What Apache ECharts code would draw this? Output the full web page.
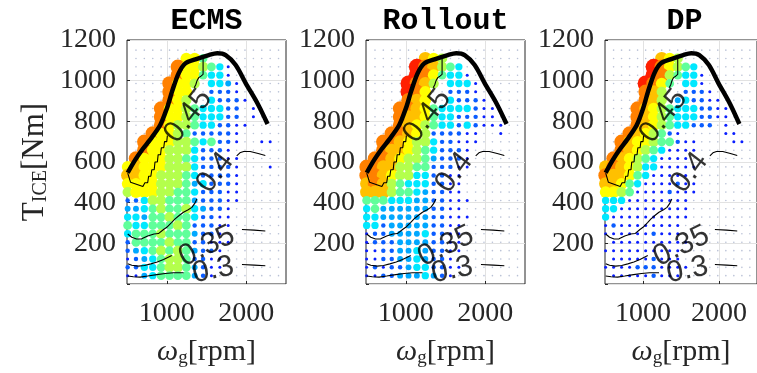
<!DOCTYPE html>
<html>
<head>
<meta charset="utf-8">
<script src="https://cdn.jsdelivr.net/npm/echarts@6/dist/echarts.min.js"></script>
<style>
  html, body { margin: 0; padding: 0; background: #fff; }
  #chart { width: 757px; height: 373px; }
</style>
</head>
<body>
<div id="chart"></div>
<script>
  // operating point grid (rpm / Nm), torque rows listed top to bottom
  const speedGrid = [508, 613, 718, 824, 929, 1035, 1140, 1246, 1351, 1457, 1562, 1668, 1773, 1879, 1984, 2090, 2195, 2301, 2406]
  const torqueGrid = [1150, 1109, 1068, 1027, 986, 945, 904, 863, 822, 781, 740, 699, 658, 617,
    576, 534, 493, 452, 411, 370, 329, 288, 247, 205, 164, 123, 82, 41]

  const titles = ['ECMS', 'Rollout', 'DP']
  const xTicks = [1000, 2000]

  // usage level per grid point (0 = not used, 10 = most used)
  const ecmsUse = [
    [0,0,0,0,0,0,0,0,0,0,0,0,0,0,0,0,0,0,0],
    [0,0,0,0,0,0,0,7,7,5,0,0,0,0,0,0,0,0,0],
    [0,0,0,0,0,0,9,7,7,6,5,4,1,0,0,0,0,0,0],
    [0,0,0,0,0,0,9,7,7,5,4,4,1,0,0,0,0,0,0],
    [0,0,0,0,0,9,7,7,6,0,4,4,3,1,0,0,0,0,0],
    [0,0,0,0,0,9,7,7,0,0,2,2,2,1,0,0,0,0,0],
    [0,0,0,0,0,9,7,6,0,0,4,2,2,2,1,0,0,0,0],
    [0,0,0,0,9,7,7,6,5,4,4,4,2,2,0,1,0,0,0],
    [0,0,0,0,9,7,7,6,5,4,4,4,2,2,0,1,0,0,0],
    [0,0,0,0,9,7,6,6,5,4,4,2,2,1,1,0,0,0,0],
    [0,0,0,9,7,7,6,5,2,2,2,2,2,1,0,0,0,0,0],
    [0,0,9,7,7,7,6,6,5,4,5,2,2,1,0,0,1,1,0],
    [0,0,9,7,7,6,6,6,4,2,2,2,1,0,0,0,0,0,0],
    [0,9,7,7,7,6,6,5,4,2,2,2,1,1,0,0,0,0,0],
    [7,8,7,7,7,6,6,6,4,2,2,2,2,1,0,0,0,1,0],
    [8,8,7,7,6,6,6,5,4,2,2,2,2,1,0,0,0,0,0],
    [7,7,7,7,6,6,6,5,3,4,2,2,2,1,0,0,0,0,0],
    [6,7,7,7,6,6,5,5,4,2,2,2,1,1,0,0,0,0,0],
    [2,2,4,6,6,5,5,5,3,2,2,2,1,1,0,0,0,0,0],
    [3,3,4,5,6,5,5,6,4,3,2,2,1,0,0,0,0,0,0],
    [4,4,3,5,5,6,5,5,4,2,2,1,1,0,0,0,0,0,0],
    [5,4,4,5,5,5,6,5,2,2,2,1,1,0,0,0,0,0,0],
    [4,5,5,5,6,5,5,5,3,2,2,1,0,0,0,0,0,0,0],
    [2,5,5,5,5,6,5,5,2,2,1,1,1,0,0,0,0,0,0],
    [2,3,4,5,6,5,6,5,3,2,2,1,0,0,0,0,0,0,0],
    [1,2,3,4,5,6,6,5,2,2,1,1,0,0,0,0,0,0,0],
    [2,2,4,4,5,6,6,5,3,2,1,1,0,0,0,0,0,0,0],
    [1,1,3,4,5,5,5,5,3,2,1,0,0,0,0,0,0,0,0]
  ]
  const rolloutUse = [
    [0,0,0,0,0,0,0,0,0,0,0,0,0,0,0,0,0,0,0],
    [0,0,0,0,0,0,0,8,7,6,0,0,0,0,0,0,0,0,0],
    [0,0,0,0,0,0,10,9,8,6,5,4,0,0,0,0,0,0,0],
    [0,0,0,0,0,0,10,9,7,5,4,4,1,0,0,0,0,0,0],
    [0,0,0,0,0,10,9,8,6,0,4,4,4,1,0,0,0,0,0],
    [0,0,0,0,0,10,9,7,0,0,2,2,2,1,0,0,0,0,0],
    [0,0,0,0,0,9,8,7,0,0,4,2,2,2,1,0,0,0,0],
    [0,0,0,0,9,9,8,7,5,4,4,4,4,2,1,1,0,0,0],
    [0,0,0,0,9,8,8,7,5,4,4,2,2,2,1,1,0,0,0],
    [0,0,0,0,9,8,7,6,5,4,4,2,4,2,1,1,1,0,0],
    [0,0,0,9,9,8,7,6,2,2,2,2,1,1,0,0,1,0,0],
    [0,0,9,9,8,7,6,6,4,2,2,1,1,1,0,0,0,0,0],
    [0,0,9,8,8,7,6,5,4,2,2,2,1,0,0,0,0,0,0],
    [0,9,9,8,7,6,6,5,3,2,2,2,1,0,0,0,0,0,0],
    [9,9,8,8,6,6,5,5,2,2,2,1,1,0,0,0,0,0,0],
    [9,9,8,7,6,6,4,4,2,2,1,1,0,0,0,0,0,0,0],
    [8,9,8,6,5,4,4,4,2,2,1,1,0,0,0,0,0,0,0],
    [8,8,8,6,5,5,4,3,2,2,1,1,0,0,0,0,0,0,0],
    [5,5,5,4,4,4,3,3,2,2,1,1,1,0,0,0,0,0,0],
    [4,5,3,3,3,3,3,3,2,2,1,1,0,0,0,0,0,0,0],
    [4,4,3,3,3,3,3,3,2,2,1,1,1,0,0,0,0,0,0],
    [4,4,2,3,3,3,3,3,2,2,1,1,0,0,0,0,0,0,0],
    [1,2,2,3,3,3,3,4,2,2,1,1,0,0,0,0,0,0,0],
    [1,2,2,2,3,3,3,3,2,2,1,1,0,0,0,0,0,0,0],
    [1,1,2,2,3,3,4,3,2,2,1,1,0,0,0,0,0,0,0],
    [1,1,2,2,3,3,4,3,2,2,1,0,0,0,0,0,0,0,0],
    [1,2,1,2,2,3,4,4,2,2,1,1,0,0,0,0,0,0,0],
    [1,1,2,2,3,3,3,4,3,2,1,0,0,0,0,0,0,0,0]
  ]
  const dpUse = [
    [0,0,0,0,0,0,0,0,0,0,0,0,0,0,0,0,0,0,0],
    [0,0,0,0,0,0,0,8,7,6,0,0,0,0,0,0,0,0,0],
    [0,0,0,0,0,0,10,9,7,6,5,4,0,0,0,0,0,0,0],
    [0,0,0,0,0,0,10,9,6,5,4,4,1,0,0,0,0,0,0],
    [0,0,0,0,0,10,9,7,5,0,4,4,1,0,0,0,0,0,0],
    [0,0,0,0,0,9,8,6,0,0,2,2,2,1,0,0,0,0,0],
    [0,0,0,0,0,9,8,6,0,3,4,2,2,1,1,0,0,0,0],
    [0,0,0,0,9,8,7,6,5,4,4,4,2,2,1,1,0,0,0],
    [0,0,0,0,9,8,7,6,5,4,4,4,2,2,1,1,0,0,0],
    [0,0,0,0,9,8,7,6,5,4,4,2,2,2,0,1,0,0,0],
    [0,0,0,9,8,7,6,5,2,1,0,0,0,0,0,1,1,0,0],
    [0,0,9,8,7,7,6,5,5,2,1,1,0,0,0,0,1,1,0],
    [0,0,9,8,7,6,5,4,1,1,1,1,0,0,0,0,0,0,0],
    [0,9,8,7,6,5,4,1,1,1,1,0,0,0,0,0,0,0,0],
    [8,9,8,7,6,4,4,1,1,1,1,1,0,0,0,0,0,0,0],
    [9,8,8,7,5,4,1,1,1,1,1,0,0,0,0,0,0,0,0],
    [8,8,7,5,4,1,1,1,1,2,1,1,0,0,0,0,0,0,0],
    [7,7,6,5,1,1,1,1,2,1,1,1,0,0,0,0,0,0,0],
    [4,4,4,1,1,1,1,1,1,1,1,0,0,0,0,0,0,0,0],
    [4,4,1,1,1,1,1,1,1,1,1,0,0,0,0,0,0,0,0],
    [4,1,1,1,1,1,1,1,1,1,1,0,0,0,0,0,0,0,0],
    [1,2,1,1,1,1,1,1,1,1,0,0,0,0,0,0,0,0,0],
    [1,1,1,1,1,1,2,1,1,1,0,0,0,0,0,0,0,0,0],
    [0,1,1,1,1,1,1,1,1,1,1,0,0,0,0,0,0,0,0],
    [1,1,1,1,1,1,1,1,1,1,0,0,0,0,0,0,0,0,0],
    [0,1,1,1,1,1,2,1,1,1,0,0,0,0,0,0,0,0,0],
    [1,1,1,1,2,2,2,1,1,1,1,0,0,0,0,0,0,0,0],
    [0,1,1,1,1,1,2,1,1,1,0,0,0,0,0,0,0,0,0]
  ]

  // engine max torque curve
  const maxTorque = [[509, 547], [601, 609], [700, 665], [791, 710], [918, 782], [1002, 864], [1066, 946],
    [1149, 1036], [1234, 1085], [1361, 1105], [1529, 1126], [1635, 1135], [1741, 1126], [1867, 1077],
    [1994, 987], [2142, 888], [2268, 787]]

  // efficiency contours (pieces between labels)
  const c045a = [[509, 545], [545, 500], [700, 480], [725, 498], [760, 498], [772, 530], [800, 530], [812, 562],
    [842, 562], [852, 600], [882, 600], [892, 636], [922, 636], [932, 670], [962, 670], [972, 700], [1000, 700], [1008, 730]]
  const c045b = [[1345, 965], [1365, 980], [1381, 1000], [1402, 1015], [1430, 1022], [1457, 1031], [1457, 1110]]
  const c040a = [[509, 246], [560, 230], [620, 221], [685, 222], [760, 236], [840, 246], [895, 248], [960, 268],
    [1000, 279], [1060, 302], [1105, 320], [1160, 338], [1210, 353], [1270, 365], [1316, 377], [1350, 395], [1379, 418]]
  const c040b = [[1880, 630], [1920, 645], [1967, 652], [2050, 652], [2150, 642], [2240, 632]]
  const c035a = [[509, 100], [560, 92], [640, 88], [720, 91], [800, 99], [880, 108], [960, 120], [1063, 140]]
  const c035b = [[1946, 268], [2100, 265], [2240, 261]]
  const c030a = [[509, 39], [580, 36], [665, 34], [760, 39], [875, 46], [980, 52], [1085, 55], [1211, 55]]
  const c030b = [[1946, 96], [2100, 93], [2240, 90]]
  const contourLabelAt = [[1270, 826], [1610, 548], [1505, 186], [1585, 68]]
  const contourLabelText = ['0.45', '0.4', '0.35', '0.3']
  const contourLabelAngle = [52, 53, 26, 12]

  const gridLeft = [127, 366, 605]
  const jet = ['#0a1eff', '#0a5cff', '#00a8ff', '#00e8ff', '#60ff9a', '#b4ff4c', '#ffff00', '#ffc000', '#ff8000', '#ff2000']
  const serif = 'Liberation Serif'
  const inkColor = '#262626'

  const grids = []
  const xAxes = []
  const yAxes = []
  const series = []
  const usedSeries = []
  const titleList = []

  const gridDots = []
  torqueGrid.forEach(t => speedGrid.slice(1).forEach(s => gridDots.push([s, t])))

  ;[ecmsUse, rolloutUse, dpUse].forEach((use, i) => {
    grids.push({ left: gridLeft[i], top: 40, width: 159, height: 245,
      show: true, borderColor: inkColor, borderWidth: 1, backgroundColor: 'transparent' })

    titleList.push({
      text: titles[i], left: gridLeft[i] + 79.5, top: 6, padding: 0, textAlign: 'center',
      textStyle: { fontFamily: 'Liberation Mono', fontWeight: 'bold', fontSize: 30, color: '#000' },
    })

    xAxes.push({
      gridIndex: i, type: 'value', min: 500, max: 2500,
      axisLine: { show: false },
      axisTick: { show: true, inside: true, length: 3, customValues: xTicks, lineStyle: { color: inkColor } },
      axisLabel: { customValues: xTicks, margin: 16, color: inkColor, fontFamily: serif, fontSize: 28,
        formatter: v => String(v) },
      splitLine: { show: true, lineStyle: { color: '#e2e2e2' } },
      name: '{w|ω}{s|g}{m|[rpm]}', nameLocation: 'middle', nameGap: 52,
      nameTextStyle: {
        rich: {
          w: { fontFamily: serif, fontStyle: 'italic', fontSize: 30, color: inkColor, lineHeight: 32 },
          s: { fontFamily: serif, fontSize: 19, color: inkColor, lineHeight: 12, verticalAlign: 'bottom' },
          m: { fontFamily: serif, fontSize: 30, color: inkColor, lineHeight: 32 },
        },
      },
    })

    yAxes.push({
      gridIndex: i, type: 'value', min: 0, max: 1200, interval: 200,
      axisLine: { show: false },
      axisTick: { show: true, inside: true, length: 3, lineStyle: { color: inkColor } },
      axisLabel: { margin: 11, color: inkColor, fontFamily: serif, fontSize: 28,
        formatter: v => (v === 0 ? '' : String(v)) },
      splitLine: { show: true, lineStyle: { color: '#e2e2e2' } },
      name: i === 0 ? '{m|T}{s|ICE}{m|[Nm]}' : '', nameLocation: 'middle', nameGap: 76,
      nameTextStyle: {
        rich: {
          m: { fontFamily: serif, fontSize: 31, color: inkColor, lineHeight: 32 },
          s: { fontFamily: serif, fontSize: 20, color: inkColor, lineHeight: 12, verticalAlign: 'bottom' },
        },
      },
    })

    // faint grid of all operating points
    series.push({
      type: 'scatter', xAxisIndex: i, yAxisIndex: i, silent: true, z: 1,
      symbolSize: 1.6, itemStyle: { color: '#a8b2cc' }, data: gridDots,
    })

    // used operating points
    const pts = []
    use.forEach((row, r) => row.forEach((lv, c) => {
      if (lv > 0) pts.push([speedGrid[c], torqueGrid[r], lv])
    }))
    usedSeries.push(series.length)
    series.push({
      type: 'scatter', xAxisIndex: i, yAxisIndex: i, silent: true, z: 2, clip: false,
      itemStyle: { opacity: 1 }, data: pts,
    })

    ;[c045a, c045b, c040a, c040b, c035a, c035b, c030a, c030b].forEach(piece => {
      series.push({
        type: 'line', xAxisIndex: i, yAxisIndex: i, silent: true, z: 3,
        showSymbol: false, smooth: false, data: piece,
        lineStyle: { color: '#000', width: 1.1 },
      })
    })

    series.push({
      type: 'line', xAxisIndex: i, yAxisIndex: i, silent: true, z: 4,
      showSymbol: false, smooth: 0.3, data: maxTorque,
      lineStyle: { color: '#000', width: 4.5 },
    })

    series.push({
      type: 'scatter', xAxisIndex: i, yAxisIndex: i, silent: true, z: 5, symbolSize: 0,
      itemStyle: { color: 'transparent' },
      data: contourLabelAt.map((p, k) => ({
        value: p, name: contourLabelText[k],
        label: { rotate: contourLabelAngle[k] },
      })),
      label: {
        show: true, position: 'inside', formatter: p => p.name,
        fontFamily: 'Liberation Sans', fontSize: 30, color: '#000', textBorderWidth: 0,
      },
    })
  })

  const chart = echarts.init(document.getElementById('chart'), null, { renderer: 'canvas' })
  chart.setOption({
    animation: false,
    backgroundColor: '#fff',
    title: titleList,
    grid: grids,
    xAxis: xAxes,
    yAxis: yAxes,
    visualMap: {
      type: 'continuous', show: false, dimension: 2, min: 1, max: 10,
      seriesIndex: usedSeries,
      inRange: { color: jet, symbolSize: [3, 16] },
    },
    series,
  })
</script>
</body>
</html>
